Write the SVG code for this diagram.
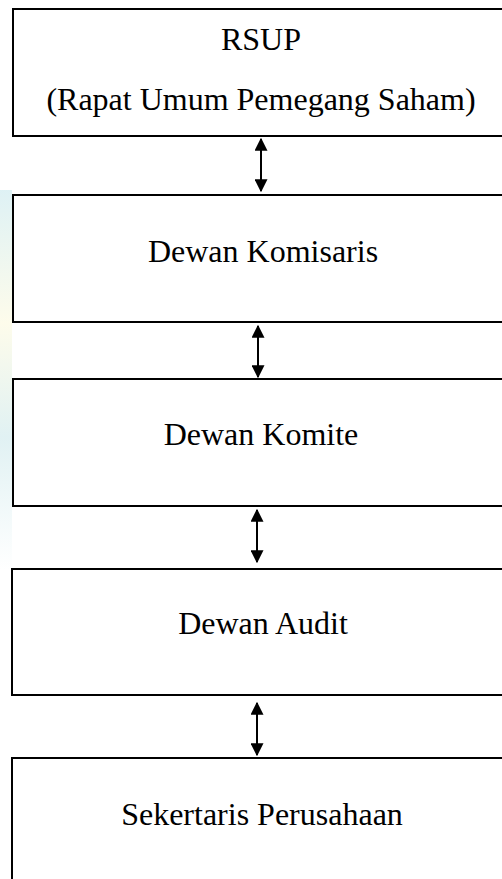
<svg xmlns="http://www.w3.org/2000/svg" width="502" height="879" viewBox="0 0 502 879">
  <style>
    .box { fill: #ffffff; stroke: #000000; stroke-width: 2; }
    .lbl { font-family: "Liberation Serif", "Times New Roman", serif; font-size: 32px; fill: #000000; text-anchor: middle; }
    .conn { stroke: #000000; stroke-width: 2; fill: none; marker-start: url(#ah); marker-end: url(#ah); }
  </style>
  <defs>
    <marker id="ah" viewBox="0 0 10 10" refX="9" refY="5" markerWidth="6.5" markerHeight="6.5" orient="auto-start-reverse" markerUnits="strokeWidth">
      <path d="M0,0 L10,5 L0,10 Z" fill="#000000"/>
    </marker>
    <linearGradient id="wm" x1="0" y1="0" x2="0" y2="1">
      <stop offset="0" stop-color="#d6eef2"/>
      <stop offset="0.35" stop-color="#fdfbe6"/>
      <stop offset="0.65" stop-color="#d9eef0"/>
      <stop offset="1" stop-color="#ffffff"/>
    </linearGradient>
  </defs>
  <rect x="0" y="0" width="502" height="879" fill="#ffffff"/>
  <rect x="0" y="190" width="12" height="380" fill="url(#wm)" opacity="0.8"/>

  <g id="node-rsup">
    <rect class="box" x="13" y="9" width="500" height="127"/>
    <text class="lbl" x="261" y="50">RSUP</text>
    <text class="lbl" x="261" y="110">(Rapat Umum Pemegang Saham)</text>
  </g>
  <g id="node-komisaris">
    <rect class="box" x="13" y="195" width="500" height="127"/>
    <text class="lbl" x="263" y="262">Dewan Komisaris</text>
  </g>
  <g id="node-komite">
    <rect class="box" x="13" y="379" width="500" height="127"/>
    <text class="lbl" x="261" y="445">Dewan Komite</text>
  </g>
  <g id="node-audit">
    <rect class="box" x="12" y="569" width="500" height="126"/>
    <text class="lbl" x="263" y="634">Dewan Audit</text>
  </g>
  <g id="node-sekertaris">
    <rect class="box" x="12" y="758" width="500" height="140"/>
    <text class="lbl" x="262" y="825">Sekertaris Perusahaan</text>
  </g>

  <g id="connectors">
    <line class="conn" x1="261" y1="139" x2="261" y2="191"/>
    <line class="conn" x1="258" y1="326" x2="258" y2="377"/>
    <line class="conn" x1="257" y1="510" x2="257" y2="562"/>
    <line class="conn" x1="257" y1="703" x2="257" y2="755"/>
  </g>
</svg>
